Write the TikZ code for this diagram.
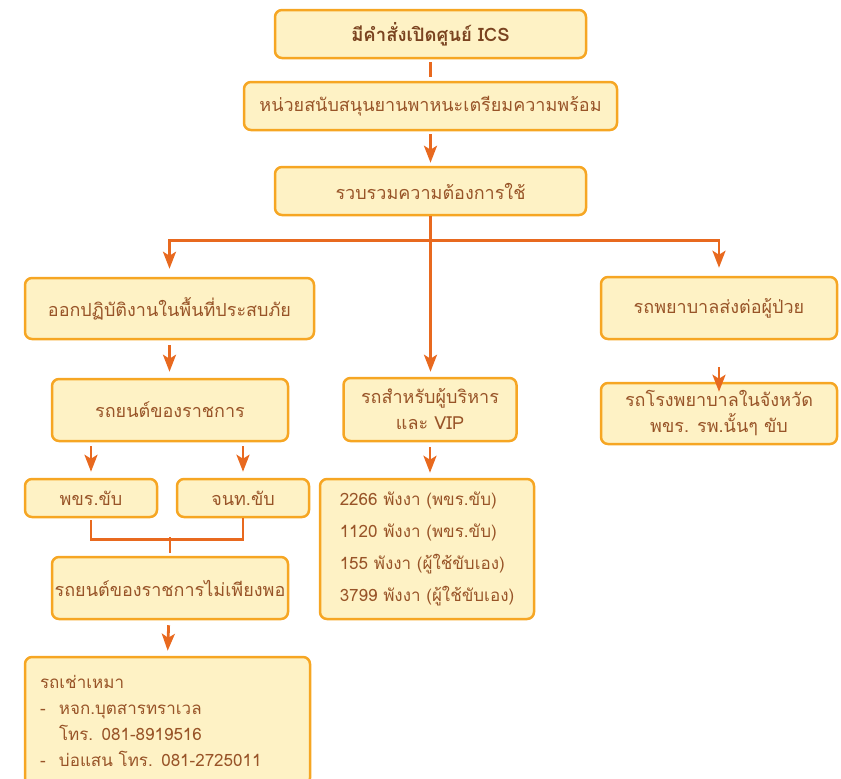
\documentclass[tikz,border=0pt]{standalone}
\usepackage{fontspec}
\setmainfont[Script=Thai]{Loma}
\usepackage{tikz}
\usetikzlibrary{arrows.meta}

\definecolor{boxfill}{HTML}{FEF2C5}
\definecolor{boxline}{HTML}{F6A623}
\definecolor{arrowline}{HTML}{E8691F}
\definecolor{boxtext}{HTML}{985428}

\tikzset{
    box/.style={draw=boxline, fill=boxfill, line width=2.5pt, rounded corners=7pt,
        text=boxtext, font=\fontsize{18}{26}\selectfont, align=center, inner sep=0pt},
    link/.style={draw=arrowline, line width=2.8pt},
    arr/.style={link, -{Stealth[width=13pt, length=17pt, inset=4pt]}},
}

\begin{document}
\begin{tikzpicture}[x=1pt, y=-1pt]
    \clip (0,0) rectangle (841,779);
    \useasboundingbox (0,0) rectangle (841,779);
    % Define nodes
        \node[box, minimum width=311, minimum height=48, font=\fontsize{18.5}{26}\selectfont\bfseries, text=boxtext!80!black] (order) at (430.5,34) {มีคำสั่งเปิดศูนย์ ICS};
        \node[box, minimum width=373, minimum height=48] (support) at (430.5,106) {หน่วยสนับสนุนยานพาหนะเตรียมความพร้อม};
        \node[box, minimum width=311, minimum height=48] (gather) at (430.5,191) {รวบรวมความต้องการใช้};
        \node[box, minimum width=289, minimum height=61] (field) at (169.5,308.5) {ออกปฏิบัติงานในพื้นที่ประสบภัย};
        \node[box, minimum width=236, minimum height=62] (govcar) at (170,410) {รถยนต์ของราชการ};
        \node[box, minimum width=132, minimum height=38] (driver) at (91,498) {พขร.ขับ};
        \node[box, minimum width=132, minimum height=38] (staff) at (243,498) {จนท.ขับ};
        \node[box, minimum width=236, minimum height=62] (shortage) at (170,588) {รถยนต์ของราชการไม่เพียงพอ};
        \node[box, minimum width=285, minimum height=128, text width=255, align=left, inner xsep=15pt, font=\fontsize{17}{26}\selectfont] (rental) at (167.5,721)
            {รถเช่าเหมา\\
            \makebox[19pt][l]{-}หจก.บุตสารทราเวล\\
            \hspace*{19pt}โทร. 081-8919516\\
            \makebox[19pt][l]{-}บ่อแสน โทร. 081-2725011};
        \node[box, minimum width=173, minimum height=63] (vip) at (430,409.5) {รถสำหรับผู้บริหาร\\และ VIP};
        \node[box, minimum width=214, minimum height=140, align=left, font=\fontsize{17}{26}\selectfont] (cars) at (427,549)
            {2266 พังงา (พขร.ขับ)\\[6pt]
            1120 พังงา (พขร.ขับ)\\[6pt]
            155 พังงา (ผู้ใช้ขับเอง)\\[6pt]
            3799 พังงา (ผู้ใช้ขับเอง)};
        \node[box, minimum width=236, minimum height=62] (ambulance) at (719,308) {รถพยาบาลส่งต่อผู้ป่วย};
        \node[box, minimum width=236, minimum height=61] (hospital) at (719,413.5) {รถโรงพยาบาลในจังหวัด\\พขร. รพ.นั้นๆ ขับ};
        % Draw arrows
        \draw[link, shorten <=3pt, shorten >=4pt] (order) -- (support);
        \draw[arr, shorten <=3pt, shorten >=3pt] (support) -- (gather);
        \draw[arr, shorten >=8pt] (gather.south) -- ++(0,24) -| (field.north);
        \draw[arr, shorten >=8pt] (gather.south) -- ++(0,24) -| (ambulance.north);
        \draw[arr, shorten >=5pt] (gather.south) -- (gather.south |- vip.north);
        \draw[arr, shorten <=5pt, shorten >=6pt] (field) -- (field.south |- govcar.north);
        \draw[arr, shorten <=4pt, shorten >=6pt] (govcar.south -| driver) -- (driver.north);
        \draw[arr, shorten <=4pt, shorten >=6pt] (govcar.south -| staff) -- (staff.north);
        \draw[link, shorten <=2pt] (driver.south) -- ++(0,21) -| (staff.south);
        \draw[link, shorten <=3pt] (shortage.north) -- ++(0,-19);
        \draw[arr, shorten <=5pt, shorten >=5pt] (shortage) -- (rental.north);
        \draw[arr, shorten <=5pt, shorten >=5pt] (vip) -- (vip.south |- cars.north);
        \draw[arr, shorten <=27pt, shorten >=-10pt] (ambulance) -- (hospital.north);
    \end{tikzpicture}
\end{document}
